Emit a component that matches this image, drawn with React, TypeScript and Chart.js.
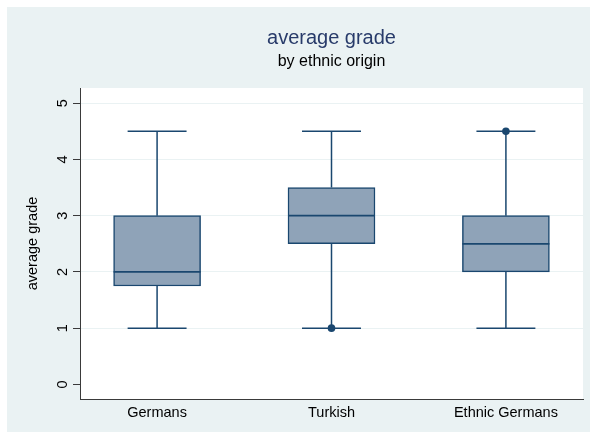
import { useEffect, useRef } from "react";
import { Chart, registerables } from "chart.js";

Chart.register(...registerables);

const groups = ["Germans", "Turkish", "Ethnic Germans"];
const positions = [1, 2, 3];
const lowerWhisker = [1, 1, 1];
const q1 = [1.75, 2.5, 2];
const medians = [2, 3, 2.5];
const q3 = [3, 3.5, 3];
const upperWhisker = [4.5, 4.5, 4.5];
const outlierPos = [2, 3];
const outlierVal = [1, 4.5];
const yTicks = [0, 1, 2, 3, 4, 5];
const titleText = "average grade";
const subtitleText = "by ethnic origin";
const yTitleText = "average grade";

const FONT = '"Liberation Sans", Arial, Helvetica, sans-serif';
const NAVY = "#1a476f";
const BG = "#eaf2f3";

export default function App() {
  const ref = useRef<HTMLCanvasElement | null>(null);

  useEffect(() => {
    const canvas = ref.current;
    if (!canvas) return;

    const bgPlugin = {
      id: "bgPlugin",
      beforeDraw(chart: any) {
        const { ctx, chartArea } = chart;
        ctx.save();
        ctx.fillStyle = "#ffffff";
        ctx.fillRect(0, 0, chart.width, chart.height);
        ctx.fillStyle = BG;
        ctx.fillRect(7, 7, chart.width - 7, chart.height - 7);
        ctx.fillStyle = "#ffffff";
        ctx.fillRect(chartArea.left, chartArea.top, chartArea.right - chartArea.left, chartArea.bottom - chartArea.top);
        ctx.restore();
      },
    };

    const boxPlugin = {
      id: "boxPlugin",
      beforeDatasetsDraw(chart: any) {
        const { ctx } = chart;
        const xs = chart.scales.x;
        const ys = chart.scales.y;
        ctx.save();
        ctx.strokeStyle = NAVY;
        ctx.lineWidth = 1.5;
        const capHalf = Math.abs(xs.getPixelForValue(1.169) - xs.getPixelForValue(1));
        positions.forEach((p, i) => {
          const cx = xs.getPixelForValue(p);
          const yLo = ys.getPixelForValue(lowerWhisker[i]);
          const yQ1 = ys.getPixelForValue(q1[i]);
          const yQ3 = ys.getPixelForValue(q3[i]);
          const yHi = ys.getPixelForValue(upperWhisker[i]);
          ctx.beginPath();
          ctx.moveTo(cx, yQ3);
          ctx.lineTo(cx, yHi);
          ctx.moveTo(cx - capHalf, yHi);
          ctx.lineTo(cx + capHalf, yHi);
          ctx.moveTo(cx, yQ1);
          ctx.lineTo(cx, yLo);
          ctx.moveTo(cx - capHalf, yLo);
          ctx.lineTo(cx + capHalf, yLo);
          ctx.stroke();
        });
        ctx.restore();
      },
      afterDatasetsDraw(chart: any) {
        const { ctx } = chart;
        const xs = chart.scales.x;
        const ys = chart.scales.y;
        const boxMeta = chart.getDatasetMeta(0);
        ctx.save();
        ctx.strokeStyle = NAVY;
        ctx.lineWidth = 1.8;
        positions.forEach((p, i) => {
          const el: any = boxMeta.data[i];
          const half = el.width / 2;
          const cx = xs.getPixelForValue(p);
          const ym = ys.getPixelForValue(medians[i]);
          ctx.beginPath();
          ctx.moveTo(cx - half, ym);
          ctx.lineTo(cx + half, ym);
          ctx.stroke();
        });
        ctx.restore();
      },
    };

    const textPlugin = {
      id: "textPlugin",
      afterDraw(chart: any) {
        const { ctx, chartArea } = chart;
        const ys = chart.scales.y;
        const cx = (chartArea.left + chartArea.right) / 2;
        ctx.save();
        ctx.textAlign = "center";
        ctx.textBaseline = "alphabetic";
        ctx.fillStyle = "#283b6a";
        ctx.font = `20px ${FONT}`;
        ctx.fillText(titleText, cx, 43.5);
        ctx.fillStyle = "#000000";
        ctx.font = `16px ${FONT}`;
        ctx.fillText(subtitleText, cx, 65.5);

        ctx.font = `14.5px ${FONT}`;
        ctx.textBaseline = "middle";
        yTicks.forEach((v) => {
          const y = ys.getPixelForValue(v);
          ctx.save();
          ctx.translate(63, y);
          ctx.rotate(-Math.PI / 2);
          ctx.fillText(String(v), 0, 0);
          ctx.restore();
        });
        ctx.save();
        ctx.translate(33, (chartArea.top + chartArea.bottom) / 2);
        ctx.rotate(-Math.PI / 2);
        ctx.fillText(yTitleText, 0, 0);
        ctx.restore();
        ctx.restore();
      },
    };

    const chart = new Chart(canvas, {
      type: "bar",
      data: {
        datasets: [
          {
            type: "bar",
            data: positions.map((p, i) => ({ x: p, y: [q1[i], q3[i]] })) as any,
            backgroundColor: "#8fa3b8",
            borderColor: NAVY,
            borderWidth: 1.5,
            borderSkipped: false,
            barThickness: 87,
          } as any,
          {
            type: "scatter",
            data: outlierPos.map((p, i) => ({ x: p, y: outlierVal[i] })),
            pointRadius: 3.8,
            pointBackgroundColor: NAVY,
            pointBorderWidth: 0,
            showLine: false,
          } as any,
        ],
      },
      options: {
        responsive: false,
        animation: false,
        events: [],
        layout: { padding: { left: 73, right: 7, top: 88, bottom: 5.6 } },
        plugins: {
          legend: { display: false },
          title: { display: false },
          tooltip: { enabled: false },
        },
        scales: {
          x: {
            type: "linear",
            offset: false,
            min: 0.558,
            max: 3.442,
            afterBuildTicks: (scale: any) => {
              scale.ticks = positions.map((v) => ({ value: v }));
            },
            ticks: {
              callback: (v: any) => groups[positions.indexOf(Number(v))] ?? "",
              font: { family: FONT, size: 14.5 },
              color: "#000000",
              padding: 5,
              maxRotation: 0,
              minRotation: 0,
              autoSkip: false,
            },
            grid: { display: false, drawTicks: false, drawOnChartArea: false },
            border: { display: true, color: "#3a3a3a", width: 1 },
          },
          y: {
            type: "linear",
            min: -0.26,
            max: 5.27,
            afterBuildTicks: (scale: any) => {
              scale.ticks = yTicks.map((v) => ({ value: v }));
            },
            ticks: { display: false },
            grid: {
              display: true,
              drawTicks: true,
              tickLength: 7,
              tickColor: "#3a3a3a",
              color: (c: any) => (c.tick && c.tick.value === 0 ? "rgba(0,0,0,0)" : BG),
              lineWidth: 1,
            },
            border: { display: true, color: "#3a3a3a", width: 1 },
          },
        },
      } as any,
      plugins: [bgPlugin, boxPlugin, textPlugin],
    });

    return () => chart.destroy();
  }, []);

  return (
    <div style={{ position: "absolute", left: 0, top: 0, width: 590, height: 432 }}>
      <canvas ref={ref} width={590} height={432} style={{ display: "block" }} />
    </div>
  );
}
